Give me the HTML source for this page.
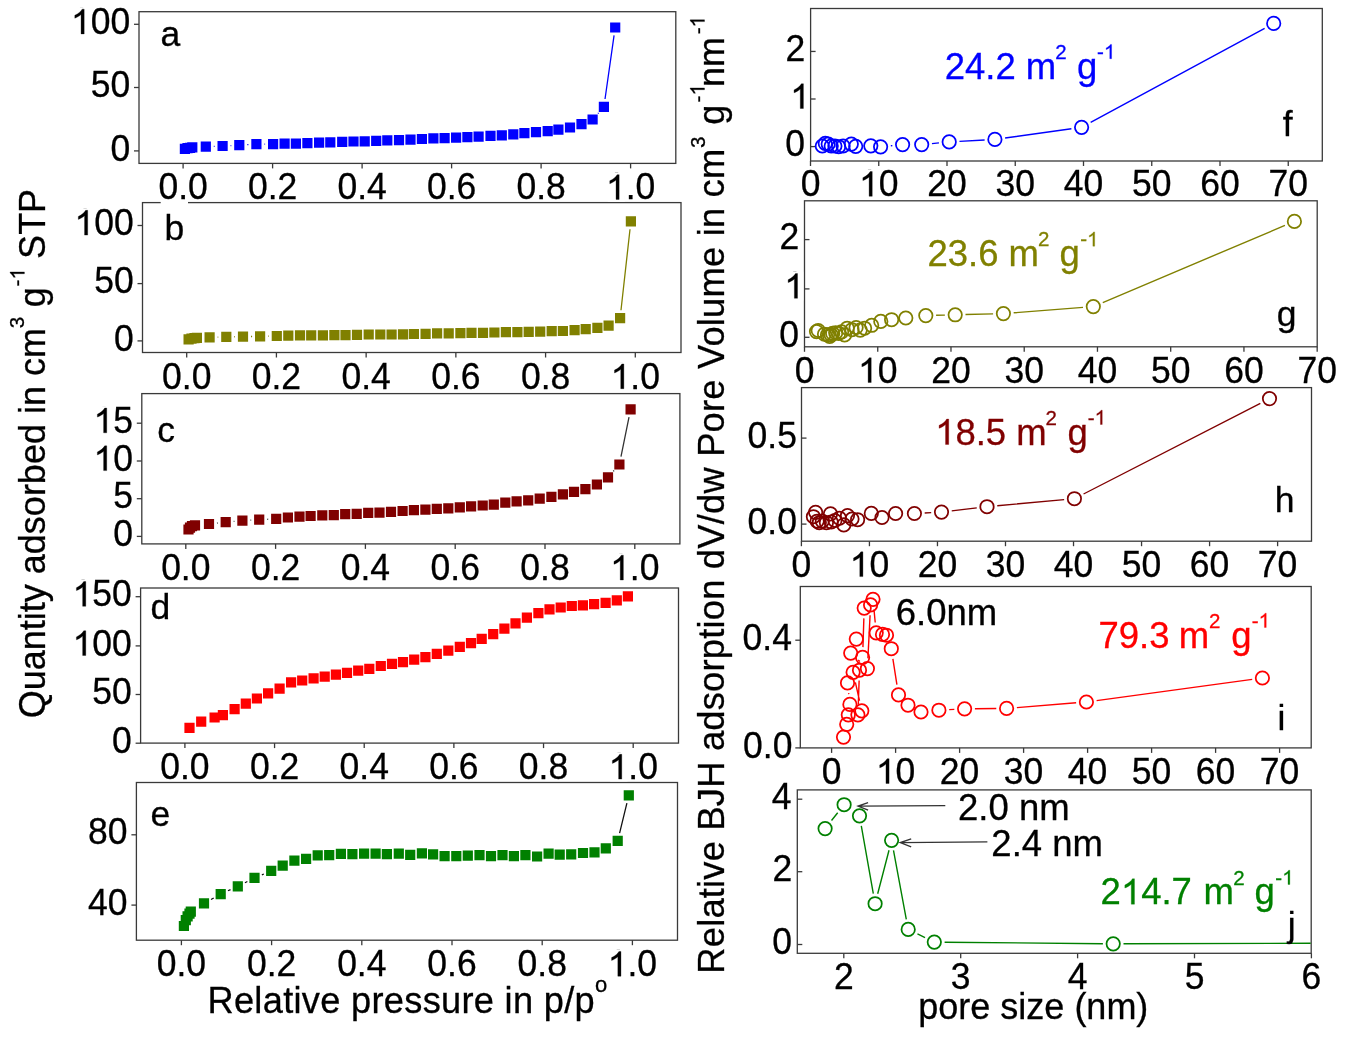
<!DOCTYPE html><html><head><meta charset="utf-8"><style>html,body{margin:0;padding:0;background:#fff;overflow:hidden}svg{display:block;will-change:transform}text{font-family:"Liberation Sans",sans-serif}</style></head><body>
<svg width="1346" height="1037" viewBox="0 0 1346 1037">
<rect width="1346" height="1037" fill="#fff"/>
<rect x="139" y="11.7" width="536.8" height="151.7" fill="none" stroke="#3a3a3a" stroke-width="1.3"/>
<line x1="134" y1="24.3" x2="139" y2="24.3" stroke="#3a3a3a" stroke-width="1.3"/>
<g transform="translate(70.95,33.9) scale(1,1.02)"><text font-size="35.5" fill="#000" stroke="#000" stroke-width="0.3">100</text>
<rect x="1.7" y="-26.02" width="17.31" height="28.22" fill="#fff"/>
<path transform="translate(0,0) scale(0.017334,-0.017334)" d="M583 0L763 0L763 1400L646 1400C615 1341 562 1279 488 1215C414 1152 325 1097 223 1053L223 889C280 909 345 939 418 980C491 1021 546 1060 583 1097Z" fill="#000" stroke="#000" stroke-width="17.3"/>
</g>
<line x1="134" y1="87.5" x2="139" y2="87.5" stroke="#3a3a3a" stroke-width="1.3"/>
<g transform="translate(90.7,97.1) scale(1,1.02)"><text font-size="35.5" fill="#000" stroke="#000" stroke-width="0.3">50</text>
</g>
<line x1="134" y1="150.9" x2="139" y2="150.9" stroke="#3a3a3a" stroke-width="1.3"/>
<g transform="translate(110.45,160.5) scale(1,1.02)"><text font-size="35.5" fill="#000" stroke="#000" stroke-width="0.3">0</text>
</g>
<line x1="183.1" y1="163.4" x2="183.1" y2="168.4" stroke="#3a3a3a" stroke-width="1.3"/>
<line x1="272.6" y1="163.4" x2="272.6" y2="168.4" stroke="#3a3a3a" stroke-width="1.3"/>
<line x1="362.1" y1="163.4" x2="362.1" y2="168.4" stroke="#3a3a3a" stroke-width="1.3"/>
<line x1="451.6" y1="163.4" x2="451.6" y2="168.4" stroke="#3a3a3a" stroke-width="1.3"/>
<line x1="541.1" y1="163.4" x2="541.1" y2="168.4" stroke="#3a3a3a" stroke-width="1.3"/>
<line x1="630.6" y1="163.4" x2="630.6" y2="168.4" stroke="#3a3a3a" stroke-width="1.3"/>
<path d="M213.79 146.31L214.61 146.29M230.59 145.57L231.31 145.53M247.29 144.63L248.41 144.57M264.4 144.1L265.1 144.1M597.94 113.54L598.56 112.86M605.03 98.98L614.07 35.42" stroke="#0000ff" stroke-width="1.3" fill="none"/>
<path d="M179.8 143.7h10.2v10.2h-10.2zM182.4 143.1h10.2v10.2h-10.2zM184.9 142.7h10.2v10.2h-10.2zM187.2 142.2h10.2v10.2h-10.2zM200.7 141.5h10.2v10.2h-10.2zM217.5 140.9h10.2v10.2h-10.2zM234.2 140h10.2v10.2h-10.2zM251.3 139h10.2v10.2h-10.2zM268 139h10.2v10.2h-10.2zM279.5 138.5h10.2v10.2h-10.2zM290.8 138.5h10.2v10.2h-10.2zM302.3 138.1h10.2v10.2h-10.2zM314 137.6h10.2v10.2h-10.2zM325.2 137.2h10.2v10.2h-10.2zM337.1 136.8h10.2v10.2h-10.2zM348.4 136.4h10.2v10.2h-10.2zM359.6 136.3h10.2v10.2h-10.2zM371.1 135.7h10.2v10.2h-10.2zM382.2 135.3h10.2v10.2h-10.2zM393.9 135h10.2v10.2h-10.2zM405.4 134.5h10.2v10.2h-10.2zM416.8 133.9h10.2v10.2h-10.2zM428.3 133.3h10.2v10.2h-10.2zM439.5 133h10.2v10.2h-10.2zM451 132.6h10.2v10.2h-10.2zM462.3 132h10.2v10.2h-10.2zM473.5 131.5h10.2v10.2h-10.2zM485.4 130.7h10.2v10.2h-10.2zM496.7 130.2h10.2v10.2h-10.2zM508.2 129.3h10.2v10.2h-10.2zM519.3 128h10.2v10.2h-10.2zM530.9 127h10.2v10.2h-10.2zM542.6 126.1h10.2v10.2h-10.2zM553.3 124.6h10.2v10.2h-10.2zM564.9 122.4h10.2v10.2h-10.2zM576.4 119h10.2v10.2h-10.2zM587.5 114.4h10.2v10.2h-10.2zM598.8 101.8h10.2v10.2h-10.2zM610.1 22.4h10.2v10.2h-10.2z" fill="#0000ff"/>
<g transform="translate(160.5,46.1)"><text font-size="35.5" fill="#000" stroke="#000" stroke-width="0.3">a</text>
</g>
<rect x="142.5" y="202.6" width="538.5" height="149.9" fill="none" stroke="#3a3a3a" stroke-width="1.3"/>
<line x1="137.5" y1="225.5" x2="142.5" y2="225.5" stroke="#3a3a3a" stroke-width="1.3"/>
<g transform="translate(74.45,235.1) scale(1,1.02)"><text font-size="35.5" fill="#000" stroke="#000" stroke-width="0.3">100</text>
<rect x="1.7" y="-26.02" width="17.31" height="28.22" fill="#fff"/>
<path transform="translate(0,0) scale(0.017334,-0.017334)" d="M583 0L763 0L763 1400L646 1400C615 1341 562 1279 488 1215C414 1152 325 1097 223 1053L223 889C280 909 345 939 418 980C491 1021 546 1060 583 1097Z" fill="#000" stroke="#000" stroke-width="17.3"/>
</g>
<line x1="137.5" y1="283.6" x2="142.5" y2="283.6" stroke="#3a3a3a" stroke-width="1.3"/>
<g transform="translate(94.2,293.2) scale(1,1.02)"><text font-size="35.5" fill="#000" stroke="#000" stroke-width="0.3">50</text>
</g>
<line x1="137.5" y1="340.9" x2="142.5" y2="340.9" stroke="#3a3a3a" stroke-width="1.3"/>
<g transform="translate(113.95,350.5) scale(1,1.02)"><text font-size="35.5" fill="#000" stroke="#000" stroke-width="0.3">0</text>
</g>
<line x1="186.7" y1="352.5" x2="186.7" y2="357.5" stroke="#3a3a3a" stroke-width="1.3"/>
<line x1="276.42" y1="352.5" x2="276.42" y2="357.5" stroke="#3a3a3a" stroke-width="1.3"/>
<line x1="366.14" y1="352.5" x2="366.14" y2="357.5" stroke="#3a3a3a" stroke-width="1.3"/>
<line x1="455.86" y1="352.5" x2="455.86" y2="357.5" stroke="#3a3a3a" stroke-width="1.3"/>
<line x1="545.58" y1="352.5" x2="545.58" y2="357.5" stroke="#3a3a3a" stroke-width="1.3"/>
<line x1="635.3" y1="352.5" x2="635.3" y2="357.5" stroke="#3a3a3a" stroke-width="1.3"/>
<path d="M217.6 337.11L218.3 337.09M234.3 336.76L235 336.74M251 336.51L252.1 336.49M268.1 336.21L268.8 336.19M620.99 310.25L630.01 229.25" stroke="#808000" stroke-width="1.3" fill="none"/>
<path d="M183.5 334.2h10.2v10.2h-10.2zM186.4 333.5h10.2v10.2h-10.2zM189.4 333.1h10.2v10.2h-10.2zM191.8 332.8h10.2v10.2h-10.2zM204.5 332.2h10.2v10.2h-10.2zM221.2 331.8h10.2v10.2h-10.2zM237.9 331.5h10.2v10.2h-10.2zM255 331.3h10.2v10.2h-10.2zM271.7 330.9h10.2v10.2h-10.2zM283.2 330.5h10.2v10.2h-10.2zM294.9 330.3h10.2v10.2h-10.2zM306.1 330.3h10.2v10.2h-10.2zM317.8 330.2h10.2v10.2h-10.2zM329.3 330h10.2v10.2h-10.2zM340.4 330h10.2v10.2h-10.2zM351.9 329.8h10.2v10.2h-10.2zM363.6 329.4h10.2v10.2h-10.2zM375.2 329.4h10.2v10.2h-10.2zM386.5 329.4h10.2v10.2h-10.2zM397.9 329.2h10.2v10.2h-10.2zM408.8 328.9h10.2v10.2h-10.2zM420.5 328.7h10.2v10.2h-10.2zM432 328.3h10.2v10.2h-10.2zM443.6 328.3h10.2v10.2h-10.2zM455.3 328h10.2v10.2h-10.2zM466.4 327.8h10.2v10.2h-10.2zM477.9 327.8h10.2v10.2h-10.2zM489.3 327.4h10.2v10.2h-10.2zM500.8 327h10.2v10.2h-10.2zM512.3 327h10.2v10.2h-10.2zM523.6 326.8h10.2v10.2h-10.2zM535.1 326.5h10.2v10.2h-10.2zM546.6 326.1h10.2v10.2h-10.2zM557.8 325.9h10.2v10.2h-10.2zM569.5 325h10.2v10.2h-10.2zM580.6 324.1h10.2v10.2h-10.2zM592.3 322.8h10.2v10.2h-10.2zM603.5 320.5h10.2v10.2h-10.2zM615 313.1h10.2v10.2h-10.2zM625.8 216.2h10.2v10.2h-10.2z" fill="#808000"/>
<g transform="translate(164.55,239.9)"><text font-size="35.5" fill="#000" stroke="#000" stroke-width="0.3">b</text>
</g>
<rect x="141.8" y="393.6" width="538.1" height="150.3" fill="none" stroke="#3a3a3a" stroke-width="1.3"/>
<line x1="136.8" y1="423.2" x2="141.8" y2="423.2" stroke="#3a3a3a" stroke-width="1.3"/>
<g transform="translate(93.5,432.8) scale(1,1.02)"><text font-size="35.5" fill="#000" stroke="#000" stroke-width="0.3">15</text>
<rect x="1.7" y="-26.02" width="17.31" height="28.22" fill="#fff"/>
<path transform="translate(0,0) scale(0.017334,-0.017334)" d="M583 0L763 0L763 1400L646 1400C615 1341 562 1279 488 1215C414 1152 325 1097 223 1053L223 889C280 909 345 939 418 980C491 1021 546 1060 583 1097Z" fill="#000" stroke="#000" stroke-width="17.3"/>
</g>
<line x1="136.8" y1="461" x2="141.8" y2="461" stroke="#3a3a3a" stroke-width="1.3"/>
<g transform="translate(93.5,470.6) scale(1,1.02)"><text font-size="35.5" fill="#000" stroke="#000" stroke-width="0.3">10</text>
<rect x="1.7" y="-26.02" width="17.31" height="28.22" fill="#fff"/>
<path transform="translate(0,0) scale(0.017334,-0.017334)" d="M583 0L763 0L763 1400L646 1400C615 1341 562 1279 488 1215C414 1152 325 1097 223 1053L223 889C280 909 345 939 418 980C491 1021 546 1060 583 1097Z" fill="#000" stroke="#000" stroke-width="17.3"/>
</g>
<line x1="136.8" y1="498.7" x2="141.8" y2="498.7" stroke="#3a3a3a" stroke-width="1.3"/>
<g transform="translate(113.25,508.3) scale(1,1.02)"><text font-size="35.5" fill="#000" stroke="#000" stroke-width="0.3">5</text>
</g>
<line x1="136.8" y1="536.4" x2="141.8" y2="536.4" stroke="#3a3a3a" stroke-width="1.3"/>
<g transform="translate(113.25,546) scale(1,1.02)"><text font-size="35.5" fill="#000" stroke="#000" stroke-width="0.3">0</text>
</g>
<line x1="185.8" y1="543.9" x2="185.8" y2="548.9" stroke="#3a3a3a" stroke-width="1.3"/>
<line x1="275.6" y1="543.9" x2="275.6" y2="548.9" stroke="#3a3a3a" stroke-width="1.3"/>
<line x1="365.4" y1="543.9" x2="365.4" y2="548.9" stroke="#3a3a3a" stroke-width="1.3"/>
<line x1="455.2" y1="543.9" x2="455.2" y2="548.9" stroke="#3a3a3a" stroke-width="1.3"/>
<line x1="545" y1="543.9" x2="545" y2="548.9" stroke="#3a3a3a" stroke-width="1.3"/>
<line x1="634.8" y1="543.9" x2="634.8" y2="548.9" stroke="#3a3a3a" stroke-width="1.3"/>
<path d="M216.95 523.1L217.75 523M233.67 521.38L234.43 521.32M250.39 520.17L251.21 520.13M267.19 519.28L268.21 519.22M613.32 471.33L614.08 470.47M620.99 456.66L629.01 417.24" stroke="#333" stroke-width="1.3" fill="none"/>
<path d="M183.4 524.4h10.2v10.2h-10.2zM184.9 522.5h10.2v10.2h-10.2zM186.9 521.1h10.2v10.2h-10.2zM189.9 520.2h10.2v10.2h-10.2zM203.9 518.9h10.2v10.2h-10.2zM220.6 517h10.2v10.2h-10.2zM237.3 515.5h10.2v10.2h-10.2zM254.1 514.6h10.2v10.2h-10.2zM271.1 513.7h10.2v10.2h-10.2zM282.8 512.4h10.2v10.2h-10.2zM294.4 511.5h10.2v10.2h-10.2zM305.5 510.9h10.2v10.2h-10.2zM317.2 510.3h10.2v10.2h-10.2zM328.7 510h10.2v10.2h-10.2zM340.1 509h10.2v10.2h-10.2zM351.6 508.7h10.2v10.2h-10.2zM363.1 507.7h10.2v10.2h-10.2zM374.4 507.6h10.2v10.2h-10.2zM385.9 506.8h10.2v10.2h-10.2zM397.5 505.9h10.2v10.2h-10.2zM408.8 505.1h10.2v10.2h-10.2zM420.3 504.5h10.2v10.2h-10.2zM431.7 503.7h10.2v10.2h-10.2zM443.2 503.2h10.2v10.2h-10.2zM454.7 502.3h10.2v10.2h-10.2zM466 501.3h10.2v10.2h-10.2zM477.6 500.4h10.2v10.2h-10.2zM488.7 499.5h10.2v10.2h-10.2zM500.2 497.6h10.2v10.2h-10.2zM511.5 496.3h10.2v10.2h-10.2zM523.1 495.2h10.2v10.2h-10.2zM534.6 493.5h10.2v10.2h-10.2zM546.3 491.7h10.2v10.2h-10.2zM557.8 489.3h10.2v10.2h-10.2zM568.9 486.8h10.2v10.2h-10.2zM580.3 484.1h10.2v10.2h-10.2zM591.8 479.4h10.2v10.2h-10.2zM602.9 472.2h10.2v10.2h-10.2zM614.3 459.4h10.2v10.2h-10.2zM625.5 404.3h10.2v10.2h-10.2z" fill="#800000"/>
<g transform="translate(157.2,442.2)"><text font-size="35.5" fill="#000" stroke="#000" stroke-width="0.3">c</text>
</g>
<rect x="140.6" y="588" width="537.9" height="155.1" fill="none" stroke="#3a3a3a" stroke-width="1.3"/>
<line x1="135.6" y1="596.7" x2="140.6" y2="596.7" stroke="#3a3a3a" stroke-width="1.3"/>
<g transform="translate(72.55,606.3) scale(1,1.02)"><text font-size="35.5" fill="#000" stroke="#000" stroke-width="0.3">150</text>
<rect x="1.7" y="-26.02" width="17.31" height="28.22" fill="#fff"/>
<path transform="translate(0,0) scale(0.017334,-0.017334)" d="M583 0L763 0L763 1400L646 1400C615 1341 562 1279 488 1215C414 1152 325 1097 223 1053L223 889C280 909 345 939 418 980C491 1021 546 1060 583 1097Z" fill="#000" stroke="#000" stroke-width="17.3"/>
</g>
<line x1="135.6" y1="645.9" x2="140.6" y2="645.9" stroke="#3a3a3a" stroke-width="1.3"/>
<g transform="translate(72.55,655.5) scale(1,1.02)"><text font-size="35.5" fill="#000" stroke="#000" stroke-width="0.3">100</text>
<rect x="1.7" y="-26.02" width="17.31" height="28.22" fill="#fff"/>
<path transform="translate(0,0) scale(0.017334,-0.017334)" d="M583 0L763 0L763 1400L646 1400C615 1341 562 1279 488 1215C414 1152 325 1097 223 1053L223 889C280 909 345 939 418 980C491 1021 546 1060 583 1097Z" fill="#000" stroke="#000" stroke-width="17.3"/>
</g>
<line x1="135.6" y1="694.5" x2="140.6" y2="694.5" stroke="#3a3a3a" stroke-width="1.3"/>
<g transform="translate(92.3,704.1) scale(1,1.02)"><text font-size="35.5" fill="#000" stroke="#000" stroke-width="0.3">50</text>
</g>
<line x1="135.6" y1="743.2" x2="140.6" y2="743.2" stroke="#3a3a3a" stroke-width="1.3"/>
<g transform="translate(112.05,752.8) scale(1,1.02)"><text font-size="35.5" fill="#000" stroke="#000" stroke-width="0.3">0</text>
</g>
<line x1="184.9" y1="743.1" x2="184.9" y2="748.1" stroke="#3a3a3a" stroke-width="1.3"/>
<line x1="274.56" y1="743.1" x2="274.56" y2="748.1" stroke="#3a3a3a" stroke-width="1.3"/>
<line x1="364.22" y1="743.1" x2="364.22" y2="748.1" stroke="#3a3a3a" stroke-width="1.3"/>
<line x1="453.88" y1="743.1" x2="453.88" y2="748.1" stroke="#3a3a3a" stroke-width="1.3"/>
<line x1="543.54" y1="743.1" x2="543.54" y2="748.1" stroke="#3a3a3a" stroke-width="1.3"/>
<line x1="633.2" y1="743.1" x2="633.2" y2="748.1" stroke="#3a3a3a" stroke-width="1.3"/>
<path d="M184.4 722.8h10.2v10.2h-10.2zM196.1 716.6h10.2v10.2h-10.2zM209.5 712.4h10.2v10.2h-10.2zM217.8 710.1h10.2v10.2h-10.2zM229.5 704h10.2v10.2h-10.2zM240.7 698.6h10.2v10.2h-10.2zM251.8 693.4h10.2v10.2h-10.2zM263 688.2h10.2v10.2h-10.2zM274.5 683.6h10.2v10.2h-10.2zM286 677.2h10.2v10.2h-10.2zM297.1 675.4h10.2v10.2h-10.2zM308.5 673.3h10.2v10.2h-10.2zM319.6 671.5h10.2v10.2h-10.2zM330.8 669.6h10.2v10.2h-10.2zM341.9 667.8h10.2v10.2h-10.2zM353.1 665.5h10.2v10.2h-10.2zM364.2 663.7h10.2v10.2h-10.2zM375.7 660.9h10.2v10.2h-10.2zM386.9 658.7h10.2v10.2h-10.2zM397.9 657h10.2v10.2h-10.2zM409.1 654.6h10.2v10.2h-10.2zM420.3 652h10.2v10.2h-10.2zM431.7 648.8h10.2v10.2h-10.2zM443.2 645.5h10.2v10.2h-10.2zM454.7 641.8h10.2v10.2h-10.2zM465.9 638.1h10.2v10.2h-10.2zM476.6 633.8h10.2v10.2h-10.2zM488.1 629.1h10.2v10.2h-10.2zM499.3 623.6h10.2v10.2h-10.2zM510.4 618.2h10.2v10.2h-10.2zM521.8 612.6h10.2v10.2h-10.2zM533.3 608h10.2v10.2h-10.2zM544.4 604.2h10.2v10.2h-10.2zM555.6 602.4h10.2v10.2h-10.2zM566.7 600.9h10.2v10.2h-10.2zM577.8 600.2h10.2v10.2h-10.2zM589 599h10.2v10.2h-10.2zM600.5 597.7h10.2v10.2h-10.2zM611.7 595.3h10.2v10.2h-10.2zM622.8 591.2h10.2v10.2h-10.2z" fill="#ff0000"/>
<g transform="translate(150.5,619)"><text font-size="35.5" fill="#000" stroke="#000" stroke-width="0.3">d</text>
</g>
<rect x="136.4" y="782.5" width="541.1" height="157.7" fill="none" stroke="#3a3a3a" stroke-width="1.3"/>
<line x1="131.4" y1="834.8" x2="136.4" y2="834.8" stroke="#3a3a3a" stroke-width="1.3"/>
<g transform="translate(88.1,844.4) scale(1,1.02)"><text font-size="35.5" fill="#000" stroke="#000" stroke-width="0.3">80</text>
</g>
<line x1="131.4" y1="905.1" x2="136.4" y2="905.1" stroke="#3a3a3a" stroke-width="1.3"/>
<g transform="translate(88.1,914.7) scale(1,1.02)"><text font-size="35.5" fill="#000" stroke="#000" stroke-width="0.3">40</text>
</g>
<line x1="181.4" y1="940.2" x2="181.4" y2="945.2" stroke="#3a3a3a" stroke-width="1.3"/>
<line x1="271.6" y1="940.2" x2="271.6" y2="945.2" stroke="#3a3a3a" stroke-width="1.3"/>
<line x1="361.8" y1="940.2" x2="361.8" y2="945.2" stroke="#3a3a3a" stroke-width="1.3"/>
<line x1="452" y1="940.2" x2="452" y2="945.2" stroke="#3a3a3a" stroke-width="1.3"/>
<line x1="542.2" y1="940.2" x2="542.2" y2="945.2" stroke="#3a3a3a" stroke-width="1.3"/>
<line x1="632.4" y1="940.2" x2="632.4" y2="945.2" stroke="#3a3a3a" stroke-width="1.3"/>
<path d="M210.99 899.51L213.71 897.99M227.98 890.78L230.52 889.62M244.95 882.71L247.35 881.49M261.88 874.81L263.82 873.99M619.6 833.13L626.9 803.17" stroke="#111" stroke-width="1.3" fill="none"/>
<path d="M178.8 920.9h10.2v10.2h-10.2zM180.7 915h10.2v10.2h-10.2zM182.5 911.3h10.2v10.2h-10.2zM184.4 908.5h10.2v10.2h-10.2zM185.7 906.6h10.2v10.2h-10.2zM198.9 898.3h10.2v10.2h-10.2zM215.6 889h10.2v10.2h-10.2zM232.7 881.2h10.2v10.2h-10.2zM249.4 872.8h10.2v10.2h-10.2zM266.1 865.8h10.2v10.2h-10.2zM277.6 860.6h10.2v10.2h-10.2zM289.3 855.5h10.2v10.2h-10.2zM301 853.7h10.2v10.2h-10.2zM312.6 850.3h10.2v10.2h-10.2zM324.1 850h10.2v10.2h-10.2zM335.8 848.7h10.2v10.2h-10.2zM347.3 849h10.2v10.2h-10.2zM359 848.5h10.2v10.2h-10.2zM370.5 848.5h10.2v10.2h-10.2zM381.8 849h10.2v10.2h-10.2zM393.7 848.5h10.2v10.2h-10.2zM405.1 849.7h10.2v10.2h-10.2zM416.8 848.3h10.2v10.2h-10.2zM428 849.2h10.2v10.2h-10.2zM439.5 851.1h10.2v10.2h-10.2zM451.2 851.1h10.2v10.2h-10.2zM462.7 850.5h10.2v10.2h-10.2zM474.4 850.1h10.2v10.2h-10.2zM485.9 851.1h10.2v10.2h-10.2zM497.4 850.1h10.2v10.2h-10.2zM508.8 851.1h10.2v10.2h-10.2zM520.3 850.1h10.2v10.2h-10.2zM532 851.4h10.2v10.2h-10.2zM543.5 848.6h10.2v10.2h-10.2zM554.6 849.6h10.2v10.2h-10.2zM566.1 849.2h10.2v10.2h-10.2zM577.9 847.9h10.2v10.2h-10.2zM589.4 847.3h10.2v10.2h-10.2zM600.7 843.3h10.2v10.2h-10.2zM612.6 835.8h10.2v10.2h-10.2zM623.7 790.3h10.2v10.2h-10.2z" fill="#008000"/>
<g transform="translate(150.5,826.1)"><text font-size="35.5" fill="#000" stroke="#000" stroke-width="0.3">e</text>
</g>
<rect x="160.7" y="200.5" width="27.3" height="4" fill="#fff"/>
<g transform="translate(158.43,199.4) scale(1,1.02)"><text font-size="35.5" fill="#000" stroke="#000" stroke-width="0.3">0.0</text>
</g>
<g transform="translate(247.93,199.4) scale(1,1.02)"><text font-size="35.5" fill="#000" stroke="#000" stroke-width="0.3">0.2</text>
</g>
<g transform="translate(337.43,199.4) scale(1,1.02)"><text font-size="35.5" fill="#000" stroke="#000" stroke-width="0.3">0.4</text>
</g>
<g transform="translate(426.93,199.4) scale(1,1.02)"><text font-size="35.5" fill="#000" stroke="#000" stroke-width="0.3">0.6</text>
</g>
<g transform="translate(516.43,199.4) scale(1,1.02)"><text font-size="35.5" fill="#000" stroke="#000" stroke-width="0.3">0.8</text>
</g>
<g transform="translate(605.93,199.4) scale(1,1.02)"><text font-size="35.5" fill="#000" stroke="#000" stroke-width="0.3">1.0</text>
<rect x="1.7" y="-26.02" width="17.31" height="28.22" fill="#fff"/>
<path transform="translate(0,0) scale(0.017334,-0.017334)" d="M583 0L763 0L763 1400L646 1400C615 1341 562 1279 488 1215C414 1152 325 1097 223 1053L223 889C280 909 345 939 418 980C491 1021 546 1060 583 1097Z" fill="#000" stroke="#000" stroke-width="17.3"/>
</g>
<g transform="translate(162.03,388.7) scale(1,1.02)"><text font-size="35.5" fill="#000" stroke="#000" stroke-width="0.3">0.0</text>
</g>
<g transform="translate(251.75,388.7) scale(1,1.02)"><text font-size="35.5" fill="#000" stroke="#000" stroke-width="0.3">0.2</text>
</g>
<g transform="translate(341.47,388.7) scale(1,1.02)"><text font-size="35.5" fill="#000" stroke="#000" stroke-width="0.3">0.4</text>
</g>
<g transform="translate(431.19,388.7) scale(1,1.02)"><text font-size="35.5" fill="#000" stroke="#000" stroke-width="0.3">0.6</text>
</g>
<g transform="translate(520.91,388.7) scale(1,1.02)"><text font-size="35.5" fill="#000" stroke="#000" stroke-width="0.3">0.8</text>
</g>
<g transform="translate(610.63,388.7) scale(1,1.02)"><text font-size="35.5" fill="#000" stroke="#000" stroke-width="0.3">1.0</text>
<rect x="1.7" y="-26.02" width="17.31" height="28.22" fill="#fff"/>
<path transform="translate(0,0) scale(0.017334,-0.017334)" d="M583 0L763 0L763 1400L646 1400C615 1341 562 1279 488 1215C414 1152 325 1097 223 1053L223 889C280 909 345 939 418 980C491 1021 546 1060 583 1097Z" fill="#000" stroke="#000" stroke-width="17.3"/>
</g>
<g transform="translate(161.13,580) scale(1,1.02)"><text font-size="35.5" fill="#000" stroke="#000" stroke-width="0.3">0.0</text>
</g>
<g transform="translate(250.93,580) scale(1,1.02)"><text font-size="35.5" fill="#000" stroke="#000" stroke-width="0.3">0.2</text>
</g>
<g transform="translate(340.73,580) scale(1,1.02)"><text font-size="35.5" fill="#000" stroke="#000" stroke-width="0.3">0.4</text>
</g>
<g transform="translate(430.53,580) scale(1,1.02)"><text font-size="35.5" fill="#000" stroke="#000" stroke-width="0.3">0.6</text>
</g>
<g transform="translate(520.33,580) scale(1,1.02)"><text font-size="35.5" fill="#000" stroke="#000" stroke-width="0.3">0.8</text>
</g>
<g transform="translate(610.13,580) scale(1,1.02)"><text font-size="35.5" fill="#000" stroke="#000" stroke-width="0.3">1.0</text>
<rect x="1.7" y="-26.02" width="17.31" height="28.22" fill="#fff"/>
<path transform="translate(0,0) scale(0.017334,-0.017334)" d="M583 0L763 0L763 1400L646 1400C615 1341 562 1279 488 1215C414 1152 325 1097 223 1053L223 889C280 909 345 939 418 980C491 1021 546 1060 583 1097Z" fill="#000" stroke="#000" stroke-width="17.3"/>
</g>
<g transform="translate(160.23,779.1) scale(1,1.02)"><text font-size="35.5" fill="#000" stroke="#000" stroke-width="0.3">0.0</text>
</g>
<g transform="translate(249.89,779.1) scale(1,1.02)"><text font-size="35.5" fill="#000" stroke="#000" stroke-width="0.3">0.2</text>
</g>
<g transform="translate(339.55,779.1) scale(1,1.02)"><text font-size="35.5" fill="#000" stroke="#000" stroke-width="0.3">0.4</text>
</g>
<g transform="translate(429.21,779.1) scale(1,1.02)"><text font-size="35.5" fill="#000" stroke="#000" stroke-width="0.3">0.6</text>
</g>
<g transform="translate(518.87,779.1) scale(1,1.02)"><text font-size="35.5" fill="#000" stroke="#000" stroke-width="0.3">0.8</text>
</g>
<g transform="translate(608.53,779.1) scale(1,1.02)"><text font-size="35.5" fill="#000" stroke="#000" stroke-width="0.3">1.0</text>
<rect x="1.7" y="-26.02" width="17.31" height="28.22" fill="#fff"/>
<path transform="translate(0,0) scale(0.017334,-0.017334)" d="M583 0L763 0L763 1400L646 1400C615 1341 562 1279 488 1215C414 1152 325 1097 223 1053L223 889C280 909 345 939 418 980C491 1021 546 1060 583 1097Z" fill="#000" stroke="#000" stroke-width="17.3"/>
</g>
<g transform="translate(156.73,976.2) scale(1,1.02)"><text font-size="35.5" fill="#000" stroke="#000" stroke-width="0.3">0.0</text>
</g>
<g transform="translate(246.93,976.2) scale(1,1.02)"><text font-size="35.5" fill="#000" stroke="#000" stroke-width="0.3">0.2</text>
</g>
<g transform="translate(337.13,976.2) scale(1,1.02)"><text font-size="35.5" fill="#000" stroke="#000" stroke-width="0.3">0.4</text>
</g>
<g transform="translate(427.33,976.2) scale(1,1.02)"><text font-size="35.5" fill="#000" stroke="#000" stroke-width="0.3">0.6</text>
</g>
<g transform="translate(517.53,976.2) scale(1,1.02)"><text font-size="35.5" fill="#000" stroke="#000" stroke-width="0.3">0.8</text>
</g>
<g transform="translate(607.73,976.2) scale(1,1.02)"><text font-size="35.5" fill="#000" stroke="#000" stroke-width="0.3">1.0</text>
<rect x="1.7" y="-26.02" width="17.31" height="28.22" fill="#fff"/>
<path transform="translate(0,0) scale(0.017334,-0.017334)" d="M583 0L763 0L763 1400L646 1400C615 1341 562 1279 488 1215C414 1152 325 1097 223 1053L223 889C280 909 345 939 418 980C491 1021 546 1060 583 1097Z" fill="#000" stroke="#000" stroke-width="17.3"/>
</g>
<rect x="810.6" y="8.5" width="511.7" height="152.5" fill="none" stroke="#3a3a3a" stroke-width="1.3"/>
<line x1="810.6" y1="51.45" x2="815.6" y2="51.45" stroke="#3a3a3a" stroke-width="1.3"/>
<g transform="translate(785.4,60.95) scale(1,1.02)"><text font-size="35.5" fill="#000" stroke="#000" stroke-width="0.3">2</text>
</g>
<line x1="810.6" y1="99" x2="815.6" y2="99" stroke="#3a3a3a" stroke-width="1.3"/>
<g transform="translate(790.18,108.5) scale(1,1.02)"><text font-size="35.5" fill="#000" stroke="#000" stroke-width="0.3">1</text>
<rect x="1.7" y="-26.02" width="17.31" height="28.22" fill="#fff"/>
<path transform="translate(0,0) scale(0.017334,-0.017334)" d="M583 0L763 0L763 1400L646 1400C615 1341 562 1279 488 1215C414 1152 325 1097 223 1053L223 889C280 909 345 939 418 980C491 1021 546 1060 583 1097Z" fill="#000" stroke="#000" stroke-width="17.3"/>
</g>
<line x1="810.6" y1="146.6" x2="815.6" y2="146.6" stroke="#3a3a3a" stroke-width="1.3"/>
<g transform="translate(785.15,156.1) scale(1,1.02)"><text font-size="35.5" fill="#000" stroke="#000" stroke-width="0.3">0</text>
</g>
<line x1="810.5" y1="161" x2="810.5" y2="166" stroke="#3a3a3a" stroke-width="1.3"/>
<g transform="translate(800.63,196.3) scale(1,1.02)"><text font-size="35.5" fill="#000" stroke="#000" stroke-width="0.3">0</text>
</g>
<line x1="878.75" y1="161" x2="878.75" y2="166" stroke="#3a3a3a" stroke-width="1.3"/>
<g transform="translate(859.01,196.3) scale(1,1.02)"><text font-size="35.5" fill="#000" stroke="#000" stroke-width="0.3">10</text>
<rect x="1.7" y="-26.02" width="17.31" height="28.22" fill="#fff"/>
<path transform="translate(0,0) scale(0.017334,-0.017334)" d="M583 0L763 0L763 1400L646 1400C615 1341 562 1279 488 1215C414 1152 325 1097 223 1053L223 889C280 909 345 939 418 980C491 1021 546 1060 583 1097Z" fill="#000" stroke="#000" stroke-width="17.3"/>
</g>
<line x1="947" y1="161" x2="947" y2="166" stroke="#3a3a3a" stroke-width="1.3"/>
<g transform="translate(927.26,196.3) scale(1,1.02)"><text font-size="35.5" fill="#000" stroke="#000" stroke-width="0.3">20</text>
</g>
<line x1="1015.25" y1="161" x2="1015.25" y2="166" stroke="#3a3a3a" stroke-width="1.3"/>
<g transform="translate(995.51,196.3) scale(1,1.02)"><text font-size="35.5" fill="#000" stroke="#000" stroke-width="0.3">30</text>
</g>
<line x1="1083.5" y1="161" x2="1083.5" y2="166" stroke="#3a3a3a" stroke-width="1.3"/>
<g transform="translate(1063.76,196.3) scale(1,1.02)"><text font-size="35.5" fill="#000" stroke="#000" stroke-width="0.3">40</text>
</g>
<line x1="1151.75" y1="161" x2="1151.75" y2="166" stroke="#3a3a3a" stroke-width="1.3"/>
<g transform="translate(1132.01,196.3) scale(1,1.02)"><text font-size="35.5" fill="#000" stroke="#000" stroke-width="0.3">50</text>
</g>
<line x1="1220" y1="161" x2="1220" y2="166" stroke="#3a3a3a" stroke-width="1.3"/>
<g transform="translate(1200.26,196.3) scale(1,1.02)"><text font-size="35.5" fill="#000" stroke="#000" stroke-width="0.3">60</text>
</g>
<line x1="1288.25" y1="161" x2="1288.25" y2="166" stroke="#3a3a3a" stroke-width="1.3"/>
<g transform="translate(1268.51,196.3) scale(1,1.02)"><text font-size="35.5" fill="#000" stroke="#000" stroke-width="0.3">70</text>
</g>
<path d="M890.85 145.78L892.35 145.62M931.95 143.59L938.95 142.91M959.48 141.34L984.62 139.96M1005.1 137.98L1071.4 128.72M1090.66 122.4L1264.64 28.3" stroke="#0000ff" stroke-width="1.4" fill="none"/>
<circle cx="822.3" cy="146" r="6.7" fill="none" stroke="#0000ff" stroke-width="1.75"/>
<circle cx="825.3" cy="143.4" r="6.7" fill="none" stroke="#0000ff" stroke-width="1.75"/>
<circle cx="828.2" cy="144.1" r="6.7" fill="none" stroke="#0000ff" stroke-width="1.75"/>
<circle cx="831.2" cy="146" r="6.7" fill="none" stroke="#0000ff" stroke-width="1.75"/>
<circle cx="834.9" cy="146" r="6.7" fill="none" stroke="#0000ff" stroke-width="1.75"/>
<circle cx="838.6" cy="146.7" r="6.7" fill="none" stroke="#0000ff" stroke-width="1.75"/>
<circle cx="843.1" cy="146" r="6.7" fill="none" stroke="#0000ff" stroke-width="1.75"/>
<circle cx="851.3" cy="144.1" r="6.7" fill="none" stroke="#0000ff" stroke-width="1.75"/>
<circle cx="855.7" cy="146.3" r="6.7" fill="none" stroke="#0000ff" stroke-width="1.75"/>
<circle cx="870.8" cy="145.8" r="6.7" fill="none" stroke="#0000ff" stroke-width="1.75"/>
<circle cx="880.6" cy="146.8" r="6.7" fill="none" stroke="#0000ff" stroke-width="1.75"/>
<circle cx="902.6" cy="144.6" r="6.7" fill="none" stroke="#0000ff" stroke-width="1.75"/>
<circle cx="921.7" cy="144.6" r="6.7" fill="none" stroke="#0000ff" stroke-width="1.75"/>
<circle cx="949.2" cy="141.9" r="6.7" fill="none" stroke="#0000ff" stroke-width="1.75"/>
<circle cx="994.9" cy="139.4" r="6.7" fill="none" stroke="#0000ff" stroke-width="1.75"/>
<circle cx="1081.6" cy="127.3" r="6.7" fill="none" stroke="#0000ff" stroke-width="1.75"/>
<circle cx="1273.7" cy="23.4" r="6.7" fill="none" stroke="#0000ff" stroke-width="1.75"/>
<g transform="translate(1282.7,136.4)"><text font-size="35.5" fill="#000" stroke="#000" stroke-width="0.3">f</text>
</g>
<rect x="804.5" y="200.8" width="512.7" height="146" fill="none" stroke="#3a3a3a" stroke-width="1.3"/>
<line x1="804.5" y1="239.6" x2="809.5" y2="239.6" stroke="#3a3a3a" stroke-width="1.3"/>
<g transform="translate(779.5,249) scale(1,1.02)"><text font-size="35.5" fill="#000" stroke="#000" stroke-width="0.3">2</text>
</g>
<line x1="804.5" y1="288.9" x2="809.5" y2="288.9" stroke="#3a3a3a" stroke-width="1.3"/>
<g transform="translate(784.28,298.3) scale(1,1.02)"><text font-size="35.5" fill="#000" stroke="#000" stroke-width="0.3">1</text>
<rect x="1.7" y="-26.02" width="17.31" height="28.22" fill="#fff"/>
<path transform="translate(0,0) scale(0.017334,-0.017334)" d="M583 0L763 0L763 1400L646 1400C615 1341 562 1279 488 1215C414 1152 325 1097 223 1053L223 889C280 909 345 939 418 980C491 1021 546 1060 583 1097Z" fill="#000" stroke="#000" stroke-width="17.3"/>
</g>
<line x1="804.5" y1="337.3" x2="809.5" y2="337.3" stroke="#3a3a3a" stroke-width="1.3"/>
<g transform="translate(779.25,346.7) scale(1,1.02)"><text font-size="35.5" fill="#000" stroke="#000" stroke-width="0.3">0</text>
</g>
<line x1="804.5" y1="346.8" x2="804.5" y2="351.8" stroke="#3a3a3a" stroke-width="1.3"/>
<g transform="translate(794.63,382.5) scale(1,1.02)"><text font-size="35.5" fill="#000" stroke="#000" stroke-width="0.3">0</text>
</g>
<line x1="877.74" y1="346.8" x2="877.74" y2="351.8" stroke="#3a3a3a" stroke-width="1.3"/>
<g transform="translate(858,382.5) scale(1,1.02)"><text font-size="35.5" fill="#000" stroke="#000" stroke-width="0.3">10</text>
<rect x="1.7" y="-26.02" width="17.31" height="28.22" fill="#fff"/>
<path transform="translate(0,0) scale(0.017334,-0.017334)" d="M583 0L763 0L763 1400L646 1400C615 1341 562 1279 488 1215C414 1152 325 1097 223 1053L223 889C280 909 345 939 418 980C491 1021 546 1060 583 1097Z" fill="#000" stroke="#000" stroke-width="17.3"/>
</g>
<line x1="950.98" y1="346.8" x2="950.98" y2="351.8" stroke="#3a3a3a" stroke-width="1.3"/>
<g transform="translate(931.24,382.5) scale(1,1.02)"><text font-size="35.5" fill="#000" stroke="#000" stroke-width="0.3">20</text>
</g>
<line x1="1024.22" y1="346.8" x2="1024.22" y2="351.8" stroke="#3a3a3a" stroke-width="1.3"/>
<g transform="translate(1004.48,382.5) scale(1,1.02)"><text font-size="35.5" fill="#000" stroke="#000" stroke-width="0.3">30</text>
</g>
<line x1="1097.46" y1="346.8" x2="1097.46" y2="351.8" stroke="#3a3a3a" stroke-width="1.3"/>
<g transform="translate(1077.72,382.5) scale(1,1.02)"><text font-size="35.5" fill="#000" stroke="#000" stroke-width="0.3">40</text>
</g>
<line x1="1170.7" y1="346.8" x2="1170.7" y2="351.8" stroke="#3a3a3a" stroke-width="1.3"/>
<g transform="translate(1150.96,382.5) scale(1,1.02)"><text font-size="35.5" fill="#000" stroke="#000" stroke-width="0.3">50</text>
</g>
<line x1="1243.94" y1="346.8" x2="1243.94" y2="351.8" stroke="#3a3a3a" stroke-width="1.3"/>
<g transform="translate(1224.2,382.5) scale(1,1.02)"><text font-size="35.5" fill="#000" stroke="#000" stroke-width="0.3">60</text>
</g>
<line x1="1317.18" y1="346.8" x2="1317.18" y2="351.8" stroke="#3a3a3a" stroke-width="1.3"/>
<g transform="translate(1297.44,382.5) scale(1,1.02)"><text font-size="35.5" fill="#000" stroke="#000" stroke-width="0.3">70</text>
</g>
<path d="M936.1 315.32L944.9 315.08M965.5 314.54L993.1 313.86M1013.67 312.8L1083.03 307.4M1102.78 302.58L1284.92 225.42" stroke="#808000" stroke-width="1.4" fill="none"/>
<circle cx="816.5" cy="331.6" r="6.7" fill="none" stroke="#808000" stroke-width="1.75"/>
<circle cx="818.2" cy="330.5" r="6.7" fill="none" stroke="#808000" stroke-width="1.75"/>
<circle cx="824.5" cy="334.2" r="6.7" fill="none" stroke="#808000" stroke-width="1.75"/>
<circle cx="827.5" cy="334.9" r="6.7" fill="none" stroke="#808000" stroke-width="1.75"/>
<circle cx="829.7" cy="336.4" r="6.7" fill="none" stroke="#808000" stroke-width="1.75"/>
<circle cx="831.2" cy="334.9" r="6.7" fill="none" stroke="#808000" stroke-width="1.75"/>
<circle cx="832.7" cy="333.4" r="6.7" fill="none" stroke="#808000" stroke-width="1.75"/>
<circle cx="835.7" cy="332.7" r="6.7" fill="none" stroke="#808000" stroke-width="1.75"/>
<circle cx="838.6" cy="333.4" r="6.7" fill="none" stroke="#808000" stroke-width="1.75"/>
<circle cx="841.6" cy="331.9" r="6.7" fill="none" stroke="#808000" stroke-width="1.75"/>
<circle cx="844.6" cy="334.9" r="6.7" fill="none" stroke="#808000" stroke-width="1.75"/>
<circle cx="847.2" cy="328.2" r="6.7" fill="none" stroke="#808000" stroke-width="1.75"/>
<circle cx="852" cy="329.7" r="6.7" fill="none" stroke="#808000" stroke-width="1.75"/>
<circle cx="856.1" cy="327.5" r="6.7" fill="none" stroke="#808000" stroke-width="1.75"/>
<circle cx="860.2" cy="330.1" r="6.7" fill="none" stroke="#808000" stroke-width="1.75"/>
<circle cx="864.6" cy="328.2" r="6.7" fill="none" stroke="#808000" stroke-width="1.75"/>
<circle cx="871.7" cy="325.3" r="6.7" fill="none" stroke="#808000" stroke-width="1.75"/>
<circle cx="880.8" cy="321.4" r="6.7" fill="none" stroke="#808000" stroke-width="1.75"/>
<circle cx="891.6" cy="319.7" r="6.7" fill="none" stroke="#808000" stroke-width="1.75"/>
<circle cx="905.8" cy="318" r="6.7" fill="none" stroke="#808000" stroke-width="1.75"/>
<circle cx="925.8" cy="315.6" r="6.7" fill="none" stroke="#808000" stroke-width="1.75"/>
<circle cx="955.2" cy="314.8" r="6.7" fill="none" stroke="#808000" stroke-width="1.75"/>
<circle cx="1003.4" cy="313.6" r="6.7" fill="none" stroke="#808000" stroke-width="1.75"/>
<circle cx="1093.3" cy="306.6" r="6.7" fill="none" stroke="#808000" stroke-width="1.75"/>
<circle cx="1294.4" cy="221.4" r="6.7" fill="none" stroke="#808000" stroke-width="1.75"/>
<g transform="translate(1276.7,326.4)"><text font-size="35.5" fill="#000" stroke="#000" stroke-width="0.3">g</text>
</g>
<rect x="801.5" y="387.6" width="510" height="153.6" fill="none" stroke="#3a3a3a" stroke-width="1.3"/>
<line x1="801.5" y1="438.1" x2="806.5" y2="438.1" stroke="#3a3a3a" stroke-width="1.3"/>
<g transform="translate(747.55,447.7) scale(1,1.02)"><text font-size="35.5" fill="#000" stroke="#000" stroke-width="0.3">0.5</text>
</g>
<line x1="801.5" y1="524.1" x2="806.5" y2="524.1" stroke="#3a3a3a" stroke-width="1.3"/>
<g transform="translate(747.55,533.7) scale(1,1.02)"><text font-size="35.5" fill="#000" stroke="#000" stroke-width="0.3">0.0</text>
</g>
<line x1="801.4" y1="541.2" x2="801.4" y2="546.2" stroke="#3a3a3a" stroke-width="1.3"/>
<g transform="translate(791.53,576.6) scale(1,1.02)"><text font-size="35.5" fill="#000" stroke="#000" stroke-width="0.3">0</text>
</g>
<line x1="869.43" y1="541.2" x2="869.43" y2="546.2" stroke="#3a3a3a" stroke-width="1.3"/>
<g transform="translate(849.69,576.6) scale(1,1.02)"><text font-size="35.5" fill="#000" stroke="#000" stroke-width="0.3">10</text>
<rect x="1.7" y="-26.02" width="17.31" height="28.22" fill="#fff"/>
<path transform="translate(0,0) scale(0.017334,-0.017334)" d="M583 0L763 0L763 1400L646 1400C615 1341 562 1279 488 1215C414 1152 325 1097 223 1053L223 889C280 909 345 939 418 980C491 1021 546 1060 583 1097Z" fill="#000" stroke="#000" stroke-width="17.3"/>
</g>
<line x1="937.46" y1="541.2" x2="937.46" y2="546.2" stroke="#3a3a3a" stroke-width="1.3"/>
<g transform="translate(917.72,576.6) scale(1,1.02)"><text font-size="35.5" fill="#000" stroke="#000" stroke-width="0.3">20</text>
</g>
<line x1="1005.49" y1="541.2" x2="1005.49" y2="546.2" stroke="#3a3a3a" stroke-width="1.3"/>
<g transform="translate(985.75,576.6) scale(1,1.02)"><text font-size="35.5" fill="#000" stroke="#000" stroke-width="0.3">30</text>
</g>
<line x1="1073.52" y1="541.2" x2="1073.52" y2="546.2" stroke="#3a3a3a" stroke-width="1.3"/>
<g transform="translate(1053.78,576.6) scale(1,1.02)"><text font-size="35.5" fill="#000" stroke="#000" stroke-width="0.3">40</text>
</g>
<line x1="1141.55" y1="541.2" x2="1141.55" y2="546.2" stroke="#3a3a3a" stroke-width="1.3"/>
<g transform="translate(1121.81,576.6) scale(1,1.02)"><text font-size="35.5" fill="#000" stroke="#000" stroke-width="0.3">50</text>
</g>
<line x1="1209.58" y1="541.2" x2="1209.58" y2="546.2" stroke="#3a3a3a" stroke-width="1.3"/>
<g transform="translate(1189.84,576.6) scale(1,1.02)"><text font-size="35.5" fill="#000" stroke="#000" stroke-width="0.3">60</text>
</g>
<line x1="1277.61" y1="541.2" x2="1277.61" y2="546.2" stroke="#3a3a3a" stroke-width="1.3"/>
<g transform="translate(1257.87,576.6) scale(1,1.02)"><text font-size="35.5" fill="#000" stroke="#000" stroke-width="0.3">70</text>
</g>
<path d="M924.69 512.97L931.21 512.63M951.73 510.89L976.77 507.91M997.26 505.76L1064.14 499.64M1083.56 494L1260.34 403.3" stroke="#800000" stroke-width="1.4" fill="none"/>
<circle cx="813.4" cy="516.7" r="6.7" fill="none" stroke="#800000" stroke-width="1.75"/>
<circle cx="815.6" cy="512.3" r="6.7" fill="none" stroke="#800000" stroke-width="1.75"/>
<circle cx="817.1" cy="521.2" r="6.7" fill="none" stroke="#800000" stroke-width="1.75"/>
<circle cx="819.3" cy="522.7" r="6.7" fill="none" stroke="#800000" stroke-width="1.75"/>
<circle cx="822.3" cy="521.2" r="6.7" fill="none" stroke="#800000" stroke-width="1.75"/>
<circle cx="826.4" cy="522.7" r="6.7" fill="none" stroke="#800000" stroke-width="1.75"/>
<circle cx="830.5" cy="513.8" r="6.7" fill="none" stroke="#800000" stroke-width="1.75"/>
<circle cx="831.2" cy="522" r="6.7" fill="none" stroke="#800000" stroke-width="1.75"/>
<circle cx="834.9" cy="520.5" r="6.7" fill="none" stroke="#800000" stroke-width="1.75"/>
<circle cx="839.4" cy="518.2" r="6.7" fill="none" stroke="#800000" stroke-width="1.75"/>
<circle cx="843.8" cy="524.9" r="6.7" fill="none" stroke="#800000" stroke-width="1.75"/>
<circle cx="847.5" cy="515.6" r="6.7" fill="none" stroke="#800000" stroke-width="1.75"/>
<circle cx="852" cy="519" r="6.7" fill="none" stroke="#800000" stroke-width="1.75"/>
<circle cx="857.6" cy="519.7" r="6.7" fill="none" stroke="#800000" stroke-width="1.75"/>
<circle cx="871.3" cy="513.4" r="6.7" fill="none" stroke="#800000" stroke-width="1.75"/>
<circle cx="882" cy="517.5" r="6.7" fill="none" stroke="#800000" stroke-width="1.75"/>
<circle cx="895.6" cy="513.5" r="6.7" fill="none" stroke="#800000" stroke-width="1.75"/>
<circle cx="914.4" cy="513.5" r="6.7" fill="none" stroke="#800000" stroke-width="1.75"/>
<circle cx="941.5" cy="512.1" r="6.7" fill="none" stroke="#800000" stroke-width="1.75"/>
<circle cx="987" cy="506.7" r="6.7" fill="none" stroke="#800000" stroke-width="1.75"/>
<circle cx="1074.4" cy="498.7" r="6.7" fill="none" stroke="#800000" stroke-width="1.75"/>
<circle cx="1269.5" cy="398.6" r="6.7" fill="none" stroke="#800000" stroke-width="1.75"/>
<g transform="translate(1274.7,512)"><text font-size="35.5" fill="#000" stroke="#000" stroke-width="0.3">h</text>
</g>
<rect x="800.3" y="586.5" width="510.9" height="161.4" fill="none" stroke="#3a3a3a" stroke-width="1.3"/>
<line x1="795.3" y1="640.2" x2="800.3" y2="640.2" stroke="#3a3a3a" stroke-width="1.3"/>
<g transform="translate(742.55,649.8) scale(1,1.02)"><text font-size="35.5" fill="#000" stroke="#000" stroke-width="0.3">0.4</text>
</g>
<line x1="795.3" y1="747.9" x2="800.3" y2="747.9" stroke="#3a3a3a" stroke-width="1.3"/>
<g transform="translate(743.05,757.5) scale(1,1.02)"><text font-size="35.5" fill="#000" stroke="#000" stroke-width="0.3">0.0</text>
</g>
<line x1="831.6" y1="747.9" x2="831.6" y2="752.9" stroke="#3a3a3a" stroke-width="1.3"/>
<g transform="translate(821.73,783.5) scale(1,1.02)"><text font-size="35.5" fill="#000" stroke="#000" stroke-width="0.3">0</text>
</g>
<line x1="895.6" y1="747.9" x2="895.6" y2="752.9" stroke="#3a3a3a" stroke-width="1.3"/>
<g transform="translate(875.86,783.5) scale(1,1.02)"><text font-size="35.5" fill="#000" stroke="#000" stroke-width="0.3">10</text>
<rect x="1.7" y="-26.02" width="17.31" height="28.22" fill="#fff"/>
<path transform="translate(0,0) scale(0.017334,-0.017334)" d="M583 0L763 0L763 1400L646 1400C615 1341 562 1279 488 1215C414 1152 325 1097 223 1053L223 889C280 909 345 939 418 980C491 1021 546 1060 583 1097Z" fill="#000" stroke="#000" stroke-width="17.3"/>
</g>
<line x1="959.6" y1="747.9" x2="959.6" y2="752.9" stroke="#3a3a3a" stroke-width="1.3"/>
<g transform="translate(939.86,783.5) scale(1,1.02)"><text font-size="35.5" fill="#000" stroke="#000" stroke-width="0.3">20</text>
</g>
<line x1="1023.6" y1="747.9" x2="1023.6" y2="752.9" stroke="#3a3a3a" stroke-width="1.3"/>
<g transform="translate(1003.86,783.5) scale(1,1.02)"><text font-size="35.5" fill="#000" stroke="#000" stroke-width="0.3">30</text>
</g>
<line x1="1087.6" y1="747.9" x2="1087.6" y2="752.9" stroke="#3a3a3a" stroke-width="1.3"/>
<g transform="translate(1067.86,783.5) scale(1,1.02)"><text font-size="35.5" fill="#000" stroke="#000" stroke-width="0.3">40</text>
</g>
<line x1="1151.6" y1="747.9" x2="1151.6" y2="752.9" stroke="#3a3a3a" stroke-width="1.3"/>
<g transform="translate(1131.86,783.5) scale(1,1.02)"><text font-size="35.5" fill="#000" stroke="#000" stroke-width="0.3">50</text>
</g>
<line x1="1215.6" y1="747.9" x2="1215.6" y2="752.9" stroke="#3a3a3a" stroke-width="1.3"/>
<g transform="translate(1195.86,783.5) scale(1,1.02)"><text font-size="35.5" fill="#000" stroke="#000" stroke-width="0.3">60</text>
</g>
<line x1="1279.6" y1="747.9" x2="1279.6" y2="752.9" stroke="#3a3a3a" stroke-width="1.3"/>
<g transform="translate(1259.86,783.5) scale(1,1.02)"><text font-size="35.5" fill="#000" stroke="#000" stroke-width="0.3">70</text>
</g>
<path d="M848.76 694.16L848.64 693.14M855.37 682.35L859.53 700.75M858.27 704.51L859.13 680.49M859.85 661.59L858.25 660.11M862.93 647.11L863.87 618.39M873.98 609.55L875.22 622.55M892.89 658.88L896.91 684.72M949.18 709.64L954.32 709.36M974.9 708.7L996.3 708.5M1016.87 707.58L1076.13 702.82M1096.61 700.61L1252.19 679.39" stroke="#ff0000" stroke-width="1.4" fill="none"/>
<path d="M870.08 615.19L867.92 658.31" stroke="#ff0000" stroke-width="1.4" fill="none"/>
<circle cx="843.5" cy="737.1" r="6.7" fill="none" stroke="#ff0000" stroke-width="1.75"/>
<circle cx="846.7" cy="724.3" r="6.7" fill="none" stroke="#ff0000" stroke-width="1.75"/>
<circle cx="848.3" cy="714.8" r="6.7" fill="none" stroke="#ff0000" stroke-width="1.75"/>
<circle cx="849.9" cy="704.4" r="6.7" fill="none" stroke="#ff0000" stroke-width="1.75"/>
<circle cx="847.5" cy="682.9" r="6.7" fill="none" stroke="#ff0000" stroke-width="1.75"/>
<circle cx="853.1" cy="672.3" r="6.7" fill="none" stroke="#ff0000" stroke-width="1.75"/>
<circle cx="861.8" cy="710.8" r="6.7" fill="none" stroke="#ff0000" stroke-width="1.75"/>
<circle cx="857.9" cy="714.8" r="6.7" fill="none" stroke="#ff0000" stroke-width="1.75"/>
<circle cx="859.5" cy="670.2" r="6.7" fill="none" stroke="#ff0000" stroke-width="1.75"/>
<circle cx="867.4" cy="668.6" r="6.7" fill="none" stroke="#ff0000" stroke-width="1.75"/>
<circle cx="850.7" cy="653.1" r="6.7" fill="none" stroke="#ff0000" stroke-width="1.75"/>
<circle cx="856.3" cy="639.1" r="6.7" fill="none" stroke="#ff0000" stroke-width="1.75"/>
<circle cx="862.6" cy="657.4" r="6.7" fill="none" stroke="#ff0000" stroke-width="1.75"/>
<circle cx="864.2" cy="608.1" r="6.7" fill="none" stroke="#ff0000" stroke-width="1.75"/>
<circle cx="870.6" cy="604.9" r="6.7" fill="none" stroke="#ff0000" stroke-width="1.75"/>
<circle cx="873" cy="599.3" r="6.7" fill="none" stroke="#ff0000" stroke-width="1.75"/>
<circle cx="876.2" cy="632.8" r="6.7" fill="none" stroke="#ff0000" stroke-width="1.75"/>
<circle cx="882.5" cy="634.4" r="6.7" fill="none" stroke="#ff0000" stroke-width="1.75"/>
<circle cx="886.5" cy="635.2" r="6.7" fill="none" stroke="#ff0000" stroke-width="1.75"/>
<circle cx="891.3" cy="648.7" r="6.7" fill="none" stroke="#ff0000" stroke-width="1.75"/>
<circle cx="898.5" cy="694.9" r="6.7" fill="none" stroke="#ff0000" stroke-width="1.75"/>
<circle cx="908" cy="705.2" r="6.7" fill="none" stroke="#ff0000" stroke-width="1.75"/>
<circle cx="921" cy="712" r="6.7" fill="none" stroke="#ff0000" stroke-width="1.75"/>
<circle cx="938.9" cy="710.2" r="6.7" fill="none" stroke="#ff0000" stroke-width="1.75"/>
<circle cx="964.6" cy="708.8" r="6.7" fill="none" stroke="#ff0000" stroke-width="1.75"/>
<circle cx="1006.6" cy="708.4" r="6.7" fill="none" stroke="#ff0000" stroke-width="1.75"/>
<circle cx="1086.4" cy="702" r="6.7" fill="none" stroke="#ff0000" stroke-width="1.75"/>
<circle cx="1262.4" cy="678" r="6.7" fill="none" stroke="#ff0000" stroke-width="1.75"/>
<g transform="translate(1277.55,730)"><text font-size="35.5" fill="#000" stroke="#000" stroke-width="0.3">i</text>
</g>
<rect x="797.3" y="789.9" width="513.9" height="163.4" fill="none" stroke="#3a3a3a" stroke-width="1.3"/>
<line x1="797.3" y1="799.2" x2="802.3" y2="799.2" stroke="#3a3a3a" stroke-width="1.3"/>
<g transform="translate(771.85,808.7) scale(1,1.02)"><text font-size="35.5" fill="#000" stroke="#000" stroke-width="0.3">4</text>
</g>
<line x1="797.3" y1="871.7" x2="802.3" y2="871.7" stroke="#3a3a3a" stroke-width="1.3"/>
<g transform="translate(772.6,881.2) scale(1,1.02)"><text font-size="35.5" fill="#000" stroke="#000" stroke-width="0.3">2</text>
</g>
<line x1="797.3" y1="944.5" x2="802.3" y2="944.5" stroke="#3a3a3a" stroke-width="1.3"/>
<g transform="translate(772.35,954) scale(1,1.02)"><text font-size="35.5" fill="#000" stroke="#000" stroke-width="0.3">0</text>
</g>
<line x1="843.8" y1="953.3" x2="843.8" y2="958.3" stroke="#3a3a3a" stroke-width="1.3"/>
<g transform="translate(833.93,989.3) scale(1,1.02)"><text font-size="35.5" fill="#000" stroke="#000" stroke-width="0.3">2</text>
</g>
<line x1="960.7" y1="953.3" x2="960.7" y2="958.3" stroke="#3a3a3a" stroke-width="1.3"/>
<g transform="translate(950.83,989.3) scale(1,1.02)"><text font-size="35.5" fill="#000" stroke="#000" stroke-width="0.3">3</text>
</g>
<line x1="1077.6" y1="953.3" x2="1077.6" y2="958.3" stroke="#3a3a3a" stroke-width="1.3"/>
<g transform="translate(1067.73,989.3) scale(1,1.02)"><text font-size="35.5" fill="#000" stroke="#000" stroke-width="0.3">4</text>
</g>
<line x1="1194.5" y1="953.3" x2="1194.5" y2="958.3" stroke="#3a3a3a" stroke-width="1.3"/>
<g transform="translate(1184.63,989.3) scale(1,1.02)"><text font-size="35.5" fill="#000" stroke="#000" stroke-width="0.3">5</text>
</g>
<line x1="1311.4" y1="953.3" x2="1311.4" y2="958.3" stroke="#3a3a3a" stroke-width="1.3"/>
<g transform="translate(1301.53,989.3) scale(1,1.02)"><text font-size="35.5" fill="#000" stroke="#000" stroke-width="0.3">6</text>
</g>
<path d="M831.51 820.54L837.69 812.76M861.3 825.94L873.3 893.56M877.69 893.73L889.01 850.27M893.49 850.43L906.31 919.27M917.46 933.91L925.04 937.59M944.6 942.2L1102.9 943.7" stroke="#008000" stroke-width="1.4" fill="none"/>
<line x1="1123.5" y1="943.7" x2="1310.7" y2="943.3" stroke="#008000" stroke-width="1.4"/>
<circle cx="825.1" cy="828.6" r="6.7" fill="none" stroke="#008000" stroke-width="1.75"/>
<circle cx="844.1" cy="804.7" r="6.7" fill="none" stroke="#008000" stroke-width="1.75"/>
<circle cx="859.5" cy="815.8" r="6.7" fill="none" stroke="#008000" stroke-width="1.75"/>
<circle cx="875.1" cy="903.7" r="6.7" fill="none" stroke="#008000" stroke-width="1.75"/>
<circle cx="891.6" cy="840.3" r="6.7" fill="none" stroke="#008000" stroke-width="1.75"/>
<circle cx="908.2" cy="929.4" r="6.7" fill="none" stroke="#008000" stroke-width="1.75"/>
<circle cx="934.3" cy="942.1" r="6.7" fill="none" stroke="#008000" stroke-width="1.75"/>
<circle cx="1113.2" cy="943.8" r="6.7" fill="none" stroke="#008000" stroke-width="1.75"/>
<g transform="translate(1287.65,936.8)"><text font-size="35.5" fill="#000" stroke="#000" stroke-width="0.3">j</text>
</g>
<g transform="translate(944.75,78.8) scale(1,1.02)"><text font-size="36.5" fill="#0000ff" stroke="#0000ff" stroke-width="0.3">24.2</text>
</g>
<g transform="translate(1025.7,78.8)"><text font-size="36.5" fill="#0000ff" stroke="#0000ff" stroke-width="0.3">m</text>
</g>
<g transform="translate(1055.18,58.7) scale(1,1.02)"><text font-size="20.5" fill="#0000ff" stroke="#0000ff" stroke-width="0.3">2</text>
</g>
<g transform="translate(1076.9,78.8)"><text font-size="36.5" fill="#0000ff" stroke="#0000ff" stroke-width="0.3">g</text>
</g>
<g transform="translate(1097.11,58.7) scale(1,1.02)"><text font-size="20.5" fill="#0000ff" stroke="#0000ff" stroke-width="0.3">-1</text>
<rect x="7.39" y="-15.7" width="10.84" height="17.9" fill="#fff"/>
<path transform="translate(6.83,0) scale(0.010010,-0.010010)" d="M583 0L763 0L763 1400L646 1400C615 1341 562 1279 488 1215C414 1152 325 1097 223 1053L223 889C280 909 345 939 418 980C491 1021 546 1060 583 1097Z" fill="#0000ff" stroke="#0000ff" stroke-width="30.0"/>
</g>
<g transform="translate(927.42,265.9) scale(1,1.02)"><text font-size="36.5" fill="#808000" stroke="#808000" stroke-width="0.3">23.6</text>
</g>
<g transform="translate(1008.5,265.9)"><text font-size="36.5" fill="#808000" stroke="#808000" stroke-width="0.3">m</text>
</g>
<g transform="translate(1037.92,246.2) scale(1,1.02)"><text font-size="20.5" fill="#808000" stroke="#808000" stroke-width="0.3">2</text>
</g>
<g transform="translate(1059.55,265.9)"><text font-size="36.5" fill="#808000" stroke="#808000" stroke-width="0.3">g</text>
</g>
<g transform="translate(1080.21,246.2) scale(1,1.02)"><text font-size="20.5" fill="#808000" stroke="#808000" stroke-width="0.3">-1</text>
<rect x="7.39" y="-15.7" width="10.84" height="17.9" fill="#fff"/>
<path transform="translate(6.83,0) scale(0.010010,-0.010010)" d="M583 0L763 0L763 1400L646 1400C615 1341 562 1279 488 1215C414 1152 325 1097 223 1053L223 889C280 909 345 939 418 980C491 1021 546 1060 583 1097Z" fill="#808000" stroke="#808000" stroke-width="30.0"/>
</g>
<g transform="translate(935.13,444.5) scale(1,1.02)"><text font-size="36.5" fill="#800000" stroke="#800000" stroke-width="0.3">18.5</text>
<rect x="1.78" y="-26.71" width="17.74" height="28.91" fill="#fff"/>
<path transform="translate(0,0) scale(0.017822,-0.017822)" d="M583 0L763 0L763 1400L646 1400C615 1341 562 1279 488 1215C414 1152 325 1097 223 1053L223 889C280 909 345 939 418 980C491 1021 546 1060 583 1097Z" fill="#800000" stroke="#800000" stroke-width="16.8"/>
</g>
<g transform="translate(1016.35,444.5)"><text font-size="36.5" fill="#800000" stroke="#800000" stroke-width="0.3">m</text>
</g>
<g transform="translate(1045.42,424.5) scale(1,1.02)"><text font-size="20.5" fill="#800000" stroke="#800000" stroke-width="0.3">2</text>
</g>
<g transform="translate(1067.4,444.5)"><text font-size="36.5" fill="#800000" stroke="#800000" stroke-width="0.3">g</text>
</g>
<g transform="translate(1087.76,424.5) scale(1,1.02)"><text font-size="20.5" fill="#800000" stroke="#800000" stroke-width="0.3">-1</text>
<rect x="7.39" y="-15.7" width="10.84" height="17.9" fill="#fff"/>
<path transform="translate(6.83,0) scale(0.010010,-0.010010)" d="M583 0L763 0L763 1400L646 1400C615 1341 562 1279 488 1215C414 1152 325 1097 223 1053L223 889C280 909 345 939 418 980C491 1021 546 1060 583 1097Z" fill="#800000" stroke="#800000" stroke-width="30.0"/>
</g>
<g transform="translate(1098.47,647.5) scale(1,1.02)"><text font-size="36.5" fill="#ff0000" stroke="#ff0000" stroke-width="0.3">79.3</text>
</g>
<g transform="translate(1178.8,647.5)"><text font-size="36.5" fill="#ff0000" stroke="#ff0000" stroke-width="0.3">m</text>
</g>
<g transform="translate(1209.08,627.5) scale(1,1.02)"><text font-size="20.5" fill="#ff0000" stroke="#ff0000" stroke-width="0.3">2</text>
</g>
<g transform="translate(1231.25,647.5)"><text font-size="36.5" fill="#ff0000" stroke="#ff0000" stroke-width="0.3">g</text>
</g>
<g transform="translate(1251.76,627.5) scale(1,1.02)"><text font-size="20.5" fill="#ff0000" stroke="#ff0000" stroke-width="0.3">-1</text>
<rect x="7.39" y="-15.7" width="10.84" height="17.9" fill="#fff"/>
<path transform="translate(6.83,0) scale(0.010010,-0.010010)" d="M583 0L763 0L763 1400L646 1400C615 1341 562 1279 488 1215C414 1152 325 1097 223 1053L223 889C280 909 345 939 418 980C491 1021 546 1060 583 1097Z" fill="#ff0000" stroke="#ff0000" stroke-width="30.0"/>
</g>
<g transform="translate(1100.58,904.2) scale(1,1.02)"><text font-size="36.5" fill="#008000" stroke="#008000" stroke-width="0.3">214.7</text>
<rect x="22.08" y="-26.71" width="17.74" height="28.91" fill="#fff"/>
<path transform="translate(20.3,0) scale(0.017822,-0.017822)" d="M583 0L763 0L763 1400L646 1400C615 1341 562 1279 488 1215C414 1152 325 1097 223 1053L223 889C280 909 345 939 418 980C491 1021 546 1060 583 1097Z" fill="#008000" stroke="#008000" stroke-width="16.8"/>
</g>
<g transform="translate(1203.6,904.2)"><text font-size="36.5" fill="#008000" stroke="#008000" stroke-width="0.3">m</text>
</g>
<g transform="translate(1233.28,884.5) scale(1,1.02)"><text font-size="20.5" fill="#008000" stroke="#008000" stroke-width="0.3">2</text>
</g>
<g transform="translate(1254.55,904.2)"><text font-size="36.5" fill="#008000" stroke="#008000" stroke-width="0.3">g</text>
</g>
<g transform="translate(1275.36,884.5) scale(1,1.02)"><text font-size="20.5" fill="#008000" stroke="#008000" stroke-width="0.3">-1</text>
<rect x="7.39" y="-15.7" width="10.84" height="17.9" fill="#fff"/>
<path transform="translate(6.83,0) scale(0.010010,-0.010010)" d="M583 0L763 0L763 1400L646 1400C615 1341 562 1279 488 1215C414 1152 325 1097 223 1053L223 889C280 909 345 939 418 980C491 1021 546 1060 583 1097Z" fill="#008000" stroke="#008000" stroke-width="30.0"/>
</g>
<g transform="translate(895.73,624.8)"><text font-size="36.5" fill="#000" stroke="#000" stroke-width="0.3">6.0nm</text>
</g>
<g transform="translate(958.05,820.1)"><text font-size="36.5" fill="#000" stroke="#000" stroke-width="0.3">2.0 nm</text>
</g>
<g transform="translate(991.35,855.8)"><text font-size="36.5" fill="#000" stroke="#000" stroke-width="0.3">2.4 nm</text>
</g>
<path d="M945.3 805.7L858 806.1M868.1 802.7L858 806.1L868.1 810.1" stroke="#333" stroke-width="1.3" fill="none"/>
<path d="M987.4 841.8L900.2 842.6M911.2 838.8L900.2 842.6L911.2 846.8" stroke="#333" stroke-width="1.3" fill="none"/>
<g transform="translate(44.6,718.25) rotate(-90)"><text font-size="36" fill="#000" stroke="#000" stroke-width="0.3">Quantity adsorbed in cm</text>
</g>
<g transform="translate(24.4,328.23) rotate(-90) scale(1,1.02)"><text font-size="20.5" fill="#000" stroke="#000" stroke-width="0.3">3</text>
</g>
<g transform="translate(44.6,307.18) rotate(-90)"><text font-size="36" fill="#000" stroke="#000" stroke-width="0.3">g</text>
</g>
<g transform="translate(24.4,286.39) rotate(-90) scale(1,1.02)"><text font-size="20.5" fill="#000" stroke="#000" stroke-width="0.3">-1</text>
<rect x="7.39" y="-15.7" width="10.84" height="17.9" fill="#fff"/>
<path transform="translate(6.83,0) scale(0.010010,-0.010010)" d="M583 0L763 0L763 1400L646 1400C615 1341 562 1279 488 1215C414 1152 325 1097 223 1053L223 889C280 909 345 939 418 980C491 1021 546 1060 583 1097Z" fill="#000" stroke="#000" stroke-width="30.0"/>
</g>
<g transform="translate(44.6,258.88) rotate(-90)"><text font-size="36" fill="#000" stroke="#000" stroke-width="0.3">STP</text>
</g>
<g transform="translate(207.5,1012.7)"><text font-size="36.2" fill="#000" stroke="#000" stroke-width="0.3" textLength="387.18" lengthAdjust="spacing">Relative pressure in p/p</text>
</g>
<g transform="translate(594.88,991.8)"><text font-size="22" fill="#000" stroke="#000" stroke-width="0.3">o</text>
</g>
<g transform="translate(724.3,973.7) rotate(-90)"><text font-size="36.4" fill="#000" stroke="#000" stroke-width="0.3" textLength="824.99" lengthAdjust="spacing">Relative BJH adsorption dV/dw Pore Volume in cm</text>
</g>
<g transform="translate(704.5,147.93) rotate(-90) scale(1,1.02)"><text font-size="20.5" fill="#000" stroke="#000" stroke-width="0.3">3</text>
</g>
<g transform="translate(724.3,124.78) rotate(-90)"><text font-size="36" fill="#000" stroke="#000" stroke-width="0.3">g</text>
</g>
<g transform="translate(704.5,102.39) rotate(-90) scale(1,1.02)"><text font-size="20.5" fill="#000" stroke="#000" stroke-width="0.3">-1</text>
<rect x="7.39" y="-15.7" width="10.84" height="17.9" fill="#fff"/>
<path transform="translate(6.83,0) scale(0.010010,-0.010010)" d="M583 0L763 0L763 1400L646 1400C615 1341 562 1279 488 1215C414 1152 325 1097 223 1053L223 889C280 909 345 939 418 980C491 1021 546 1060 583 1097Z" fill="#000" stroke="#000" stroke-width="30.0"/>
</g>
<g transform="translate(724.3,86.95) rotate(-90)"><text font-size="36" fill="#000" stroke="#000" stroke-width="0.3">nm</text>
</g>
<g transform="translate(704.5,34.29) rotate(-90) scale(1,1.02)"><text font-size="20.5" fill="#000" stroke="#000" stroke-width="0.3">-1</text>
<rect x="7.39" y="-15.7" width="10.84" height="17.9" fill="#fff"/>
<path transform="translate(6.83,0) scale(0.010010,-0.010010)" d="M583 0L763 0L763 1400L646 1400C615 1341 562 1279 488 1215C414 1152 325 1097 223 1053L223 889C280 909 345 939 418 980C491 1021 546 1060 583 1097Z" fill="#000" stroke="#000" stroke-width="30.0"/>
</g>
<g transform="translate(918.3,1019.2)"><text font-size="36" fill="#000" stroke="#000" stroke-width="0.3">pore size (nm)</text>
</g>
</svg></body></html>
